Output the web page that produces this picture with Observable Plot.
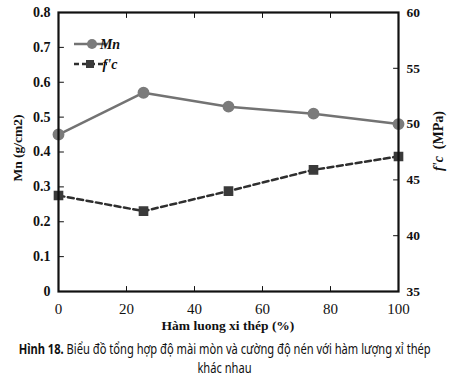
<!DOCTYPE html>
<html>
<head>
<meta charset="utf-8">
<script src="https://cdn.jsdelivr.net/npm/d3@7"></script>
<script src="https://cdn.jsdelivr.net/npm/@observablehq/plot@0.6"></script>
<style>
  html, body { margin: 0; padding: 0; background: #fff; }
  #wrap { position: relative; width: 450px; }
  #caption { width: 450px; font-family: "Liberation Sans Narrow", "Noto Sans", sans-serif; font-size: 15px; color: #111; margin-top: 0px; }
  #caption .ln { display: flex; justify-content: center; white-space: nowrap; width: 450px; height: 19px; line-height: 19px; }
  #caption .ln span.in { display: inline-block; flex: none; transform-origin: 50% 50%; line-height: 17px; }
</style>
</head>
<body>
<div id="wrap"></div>
<div id="caption"><div class="ln"><span class="in" id="cap1"><b>Hình 18.</b> Biểu đồ tổng hợp độ mài mòn và cường độ nén với hàm lượng xỉ thép</span></div><div class="ln"><span class="in" id="cap2">khác nhau</span></div></div>
<script>
const slagPct = [0, 25, 50, 75, 100];
const mnValues = [0.45, 0.57, 0.53, 0.51, 0.48];
const fcValues = [43.6, 42.2, 44.0, 45.9, 47.1];
const xTicks = [0, 20, 40, 60, 80, 100];
const leftTicks = [0, 0.1, 0.2, 0.3, 0.4, 0.5, 0.6, 0.7, 0.8];
const rightTicks = [35, 40, 45, 50, 55, 60];
const leftDomain = [0, 0.8];
const rightDomain = [35, 60];

const toLeft = v => leftDomain[0] + (v - rightDomain[0]) / (rightDomain[1] - rightDomain[0]) * (leftDomain[1] - leftDomain[0]);
const fromLeft = v => rightDomain[0] + (v - leftDomain[0]) / (leftDomain[1] - leftDomain[0]) * (rightDomain[1] - rightDomain[0]);

const mnData = slagPct.map((x, i) => ({x, y: mnValues[i]}));
const fcData = slagPct.map((x, i) => ({x, y: toLeft(fcValues[i])}));

const tickShape = {draw(ctx, l) { ctx.moveTo(0, 0); ctx.lineTo(0, -l); }};
const inner = (v) => v.slice(1, -1);

const serif = "'Liberation Serif', 'Times New Roman', serif";
const grayLine = "#737373", grayDot = "#7b7b7b", darkLine = "#2e2e2e", darkDot = "#3a3a3a";

const chart = Plot.plot({
  width: 450, height: 340,
  marginTop: 12, marginBottom: 49, marginLeft: 58, marginRight: 52,
  style: {background: "#fff", color: "#111"},
  x: {domain: [0, 100]},
  y: {domain: leftDomain},
  marks: [
    Plot.axisX({ticks: xTicks, tickSize: 0, tickPadding: 12, label: null, fontSize: 15, fontFamily: "Liberation Serif"}),
    Plot.axisY({ticks: leftTicks, tickSize: 0, tickPadding: 8, label: null, fontWeight: "bold", fontSize: 14, fontFamily: "Liberation Serif", tickFormat: d => d === 0 ? "0" : d.toFixed(1)}),
    Plot.axisY({anchor: "right", ticks: rightTicks.map(toLeft), tickSize: 0, tickPadding: 8, label: null, fontWeight: "bold", fontSize: 13.5, fontFamily: "Liberation Serif", tickFormat: d => String(Math.round(fromLeft(d)))}),
    Plot.vector(inner(xTicks), {x: d => d, frameAnchor: "bottom", length: 5, rotate: 0, anchor: "start", shape: tickShape, stroke: "#111", strokeWidth: 1}),
    Plot.vector(inner(xTicks), {x: d => d, frameAnchor: "top", length: 5, rotate: 180, anchor: "start", shape: tickShape, stroke: "#111", strokeWidth: 1}),
    Plot.vector(inner(leftTicks), {y: d => d, frameAnchor: "left", length: 5, rotate: 90, anchor: "start", shape: tickShape, stroke: "#111", strokeWidth: 1}),
    Plot.vector(inner(rightTicks).map(toLeft), {y: d => d, frameAnchor: "right", length: 5, rotate: -90, anchor: "start", shape: tickShape, stroke: "#111", strokeWidth: 1}),
    Plot.line(mnData, {x: "x", y: "y", stroke: grayLine, strokeWidth: 2.5}),
    Plot.line(fcData, {x: "x", y: "y", stroke: darkLine, strokeWidth: 2.5, strokeDasharray: "6,3.5"}),
    Plot.dot(mnData, {x: "x", y: "y", r: 5.2, fill: grayDot, stroke: grayDot}),
    Plot.dot(fcData, {x: "x", y: "y", r: 4.6, symbol: "square", fill: darkDot, stroke: darkDot}),
    Plot.frame({stroke: "#111", strokeWidth: 2.2})
  ]
});

document.getElementById("wrap").appendChild(chart);
const svg = d3.select(chart);
svg.attr("font-family", serif);
svg.selectAll("g").attr("font-family", serif);
svg.selectAll("text").attr("font-family", serif).style("font-family", serif);

// axis titles
svg.append("text").attr("x", 228).attr("y", 330).attr("text-anchor", "middle")
  .style("font-family", serif).attr("font-weight", "bold").attr("font-size", 13.5).attr("fill", "#111")
  .text("Hàm luong xi thép (%)");
svg.append("text").attr("transform", "translate(22,148) rotate(-90)").attr("text-anchor", "middle")
  .style("font-family", serif).attr("font-weight", "bold").attr("font-size", 13.5).attr("fill", "#111")
  .text("Mn (g/cm2)");
const rl = svg.append("text").attr("transform", "translate(443,141) rotate(-90)").attr("text-anchor", "middle")
  .style("font-family", serif).attr("font-weight", "bold").attr("font-size", 14).attr("fill", "#111");
rl.append("tspan").attr("font-style", "italic").text("f'c");
rl.append("tspan").text("\u00a0\u00a0(MPa)");

// legend
const lg = svg.append("g").style("font-family", serif).attr("font-weight", "bold").attr("font-style", "italic").attr("font-size", 14).attr("fill", "#111");
lg.append("line").attr("x1", 74).attr("x2", 107).attr("y1", 44).attr("y2", 44).attr("stroke", grayLine).attr("stroke-width", 2.5);
lg.append("circle").attr("cx", 92).attr("cy", 44).attr("r", 5).attr("fill", grayDot);
lg.append("text").attr("x", 110).attr("y", 49).text("Mn");
lg.append("line").attr("x1", 74).attr("x2", 107).attr("y1", 64).attr("y2", 64).attr("stroke", darkLine).attr("stroke-width", 2.5).attr("stroke-dasharray", "5,3");
lg.append("rect").attr("x", 86).attr("y", 60).attr("width", 8).attr("height", 8).attr("fill", darkDot);
lg.append("text").attr("x", 110).attr("y", 69).text("f'c");

// fit caption to reference width
const c1 = document.getElementById("cap1"), c2 = document.getElementById("cap2");
const k = Math.min(1, 412 / c1.getBoundingClientRect().width);
c1.style.transform = `scaleX(${k})`;
c2.style.transform = `scaleX(${k})`;
</script>
</body>
</html>
